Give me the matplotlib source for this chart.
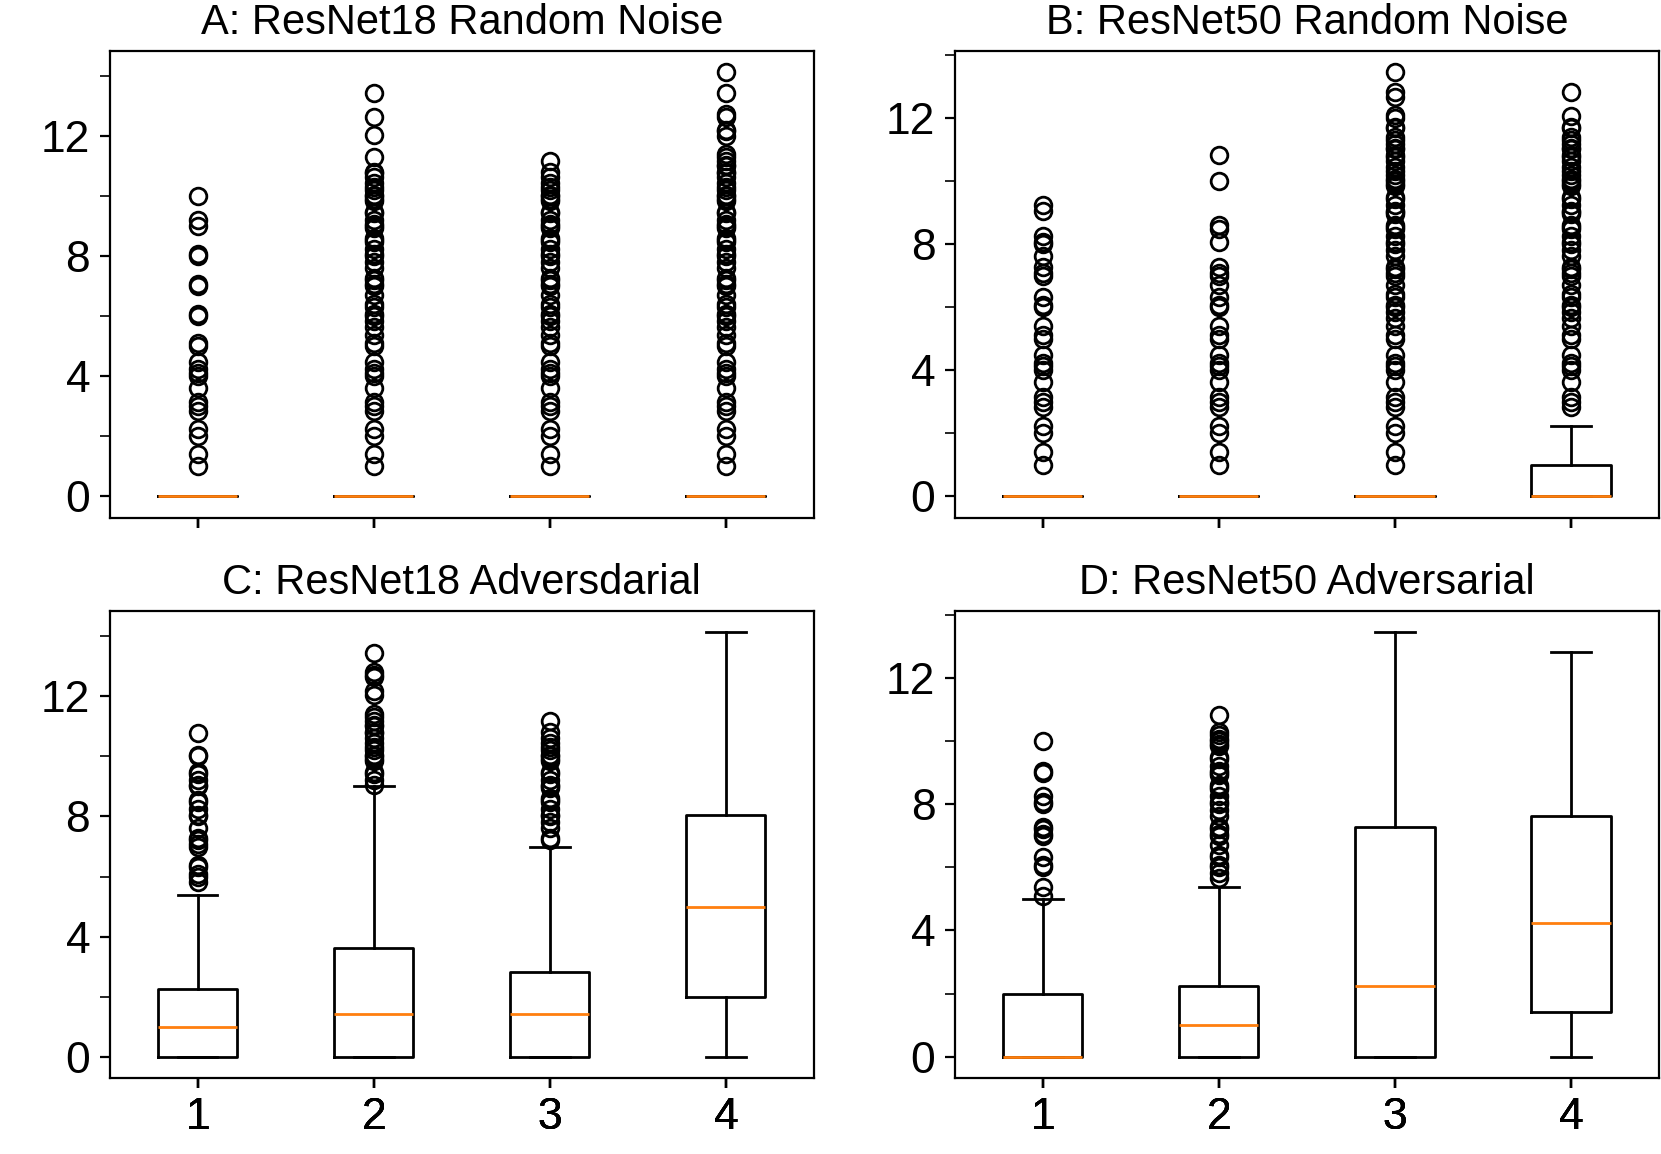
import numpy as np
import matplotlib.pyplot as plt
from matplotlib.ticker import MultipleLocator

plt.rcParams['font.family'] = ['Liberation Sans', 'DejaVu Sans']
plt.rcParams['font.size'] = 16

titles = ['A: ResNet18 Random Noise', 'B: ResNet50 Random Noise',
          'C: ResNet18 Adversdarial', 'D: ResNet50 Adversarial']
labels = ['1', '2', '3', '4']

# box statistics per panel, one entry per box (1..4)
med = [
    [0, 0, 0, 0],
    [0, 0, 0, 0],
    [1.0, 1.41, 1.41, 5.0],
    [0, 1.0, 2.24, 4.24],
]
q1 = [
    [0, 0, 0, 0],
    [0, 0, 0, 0],
    [0, 0, 0, 2.0],
    [0, 0, 0, 1.41],
]
q3 = [
    [0, 0, 0, 0],
    [0, 0, 0, 1.0],
    [2.24, 3.61, 2.83, 8.06],
    [2.0, 2.24, 7.28, 7.62],
]
whislo = [
    [0, 0, 0, 0],
    [0, 0, 0, 0],
    [0, 0, 0, 0],
    [0, 0, 0, 0],
]
whishi = [
    [0, 0, 0, 0],
    [0, 0, 0, 2.24],
    [5.39, 9.0, 7.0, 14.14],
    [5.0, 5.39, 13.45, 12.81],
]

# outliers
fliers_A = [
    [1.0, 1.41, 2.0, 2.24, 2.83, 3.0, 3.16, 3.61, 4.0, 4.12, 4.24, 4.47, 5.0,
     5.1, 6.0, 6.08, 7.0, 7.07, 8.0, 8.06, 9.0, 9.22, 10.0],
    [1.0, 1.41, 2.0, 2.24, 2.83, 3.0, 3.16, 3.61, 4.0, 4.12, 4.24, 4.47, 5.0,
     5.1, 5.39, 5.66, 5.83, 6.0, 6.08, 6.32, 6.4, 6.71, 7.0, 7.07, 7.21, 7.28,
     7.62, 7.81, 8.0, 8.06, 8.25, 8.49, 8.54, 8.6, 8.94, 9.0, 9.06, 9.22, 9.43,
     9.49, 9.85, 9.9, 10.0, 10.05, 10.2, 10.3, 10.44, 10.63, 10.77, 10.82,
     11.31, 12.04, 12.65, 13.45],
    [1.0, 1.41, 2.0, 2.24, 2.83, 3.0, 3.16, 3.61, 4.0, 4.12, 4.24, 4.47, 5.0,
     5.1, 5.39, 5.66, 5.83, 6.0, 6.08, 6.32, 6.4, 6.71, 7.0, 7.07, 7.21, 7.28,
     7.62, 7.81, 8.0, 8.06, 8.25, 8.49, 8.54, 8.6, 8.94, 9.0, 9.06, 9.22, 9.43,
     9.49, 9.85, 9.9, 10.0, 10.05, 10.2, 10.3, 10.44, 10.63, 10.82, 11.18],
    [1.0, 1.41, 2.0, 2.24, 2.83, 3.0, 3.16, 3.61, 4.0, 4.12, 4.24, 4.47, 5.0,
     5.1, 5.39, 5.66, 5.83, 6.0, 6.08, 6.32, 6.4, 6.71, 7.0, 7.07, 7.21, 7.28,
     7.62, 7.81, 8.0, 8.06, 8.25, 8.49, 8.54, 8.6, 8.94, 9.0, 9.06, 9.22, 9.43,
     9.49, 9.85, 9.9, 10.0, 10.05, 10.2, 10.3, 10.44, 10.63, 10.77, 10.82,
     11.0, 11.05, 11.18, 11.31, 11.4, 12.0, 12.17, 12.21, 12.65, 12.73, 13.45,
     14.14],
]
fliers_B = [
    [1.0, 1.41, 2.0, 2.24, 2.83, 3.0, 3.16, 3.61, 4.0, 4.12, 4.24, 4.47, 5.0,
     5.1, 5.39, 6.0, 6.08, 6.32, 7.0, 7.07, 7.28, 7.62, 8.0, 8.06, 8.25, 9.06,
     9.22],
    [1.0, 1.41, 2.0, 2.24, 2.83, 3.0, 3.16, 3.61, 4.0, 4.12, 4.24, 4.47, 5.0,
     5.1, 5.39, 6.0, 6.08, 6.32, 6.71, 7.0, 7.07, 7.28, 8.06, 8.49, 8.6, 10.0,
     10.82],
    [1.0, 1.41, 2.0, 2.24, 2.83, 3.0, 3.16, 3.61, 4.0, 4.12, 4.24, 4.47, 5.0,
     5.1, 5.39, 5.66, 5.83, 6.0, 6.08, 6.32, 6.4, 6.71, 7.0, 7.07, 7.21, 7.28,
     7.62, 7.81, 8.0, 8.06, 8.25, 8.49, 8.54, 8.6, 8.94, 9.0, 9.06, 9.22, 9.43,
     9.49, 9.85, 9.9, 10.0, 10.05, 10.2, 10.3, 10.44, 10.63, 10.77, 10.82,
     11.0, 11.05, 11.18, 11.31, 11.4, 11.66, 11.7, 12.0, 12.08, 12.65, 12.81,
     13.45],
    [2.83, 3.0, 3.16, 3.61, 4.0, 4.12, 4.24, 4.47, 5.0, 5.1, 5.39, 5.66, 5.83,
     6.0, 6.08, 6.32, 6.4, 6.71, 7.0, 7.07, 7.21, 7.28, 7.62, 7.81, 8.0, 8.06,
     8.25, 8.49, 8.54, 8.6, 8.94, 9.0, 9.06, 9.22, 9.43, 9.49, 9.85, 9.9, 10.0,
     10.05, 10.2, 10.3, 10.44, 10.63, 10.77, 10.82, 11.0, 11.05, 11.18, 11.31,
     11.4, 11.66, 11.7, 12.04, 12.81],
]
fliers_C = [
    [5.83, 6.0, 6.08, 6.32, 6.4, 7.0, 7.07, 7.21, 7.28, 7.62, 8.0, 8.06, 8.25,
     8.49, 8.54, 9.0, 9.06, 9.22, 9.43, 9.49, 10.0, 10.05, 10.77],
    [9.06, 9.22, 9.43, 9.49, 9.85, 9.9, 10.0, 10.05, 10.2, 10.3, 10.44, 10.63,
     10.77, 10.82, 11.0, 11.05, 11.18, 11.31, 11.4, 12.04, 12.17, 12.65, 12.73,
     12.81, 13.45],
    [7.21, 7.28, 7.62, 7.81, 8.0, 8.06, 8.25, 8.49, 8.54, 8.6, 8.94, 9.0, 9.06,
     9.22, 9.43, 9.49, 9.85, 9.9, 10.0, 10.05, 10.2, 10.3, 10.44, 10.63, 10.82,
     11.18],
    [],
]
fliers_D = [
    [5.1, 5.39, 6.0, 6.08, 6.32, 7.0, 7.07, 7.21, 7.28, 8.0, 8.06, 8.25, 9.0,
     9.06, 10.0],
    [5.66, 5.83, 6.0, 6.08, 6.32, 6.4, 6.71, 7.0, 7.07, 7.21, 7.28, 7.62, 7.81,
     8.0, 8.06, 8.25, 8.49, 8.54, 8.6, 8.94, 9.0, 9.06, 9.22, 9.43, 9.49, 9.85,
     9.9, 10.0, 10.05, 10.2, 10.3, 10.82],
    [],
    [],
]
fliers = [fliers_A, fliers_B, fliers_C, fliers_D]

fig, axes = plt.subplots(2, 2, figsize=(8.305, 5.77), dpi=200, sharex=True)
fig.subplots_adjust(left=0.066, right=0.9988, top=0.956, bottom=0.066,
                    wspace=0.2, hspace=0.2)

for p, ax in enumerate(axes.flat):
    stats = []
    for i in range(4):
        stats.append({'med': med[p][i], 'q1': q1[p][i], 'q3': q3[p][i],
                      'whislo': whislo[p][i], 'whishi': whishi[p][i],
                      'fliers': fliers[p][i], 'label': labels[i]})
    ax.bxp(stats, positions=[1, 2, 3, 4])
    ax.set_title(titles[p], fontsize=15)
    ax.yaxis.set_major_locator(MultipleLocator(4))
    ax.yaxis.set_minor_locator(MultipleLocator(2))
    ax.tick_params(which='minor', length=3.5)
    ax.tick_params(labelsize=16)

plt.savefig('out.png')
